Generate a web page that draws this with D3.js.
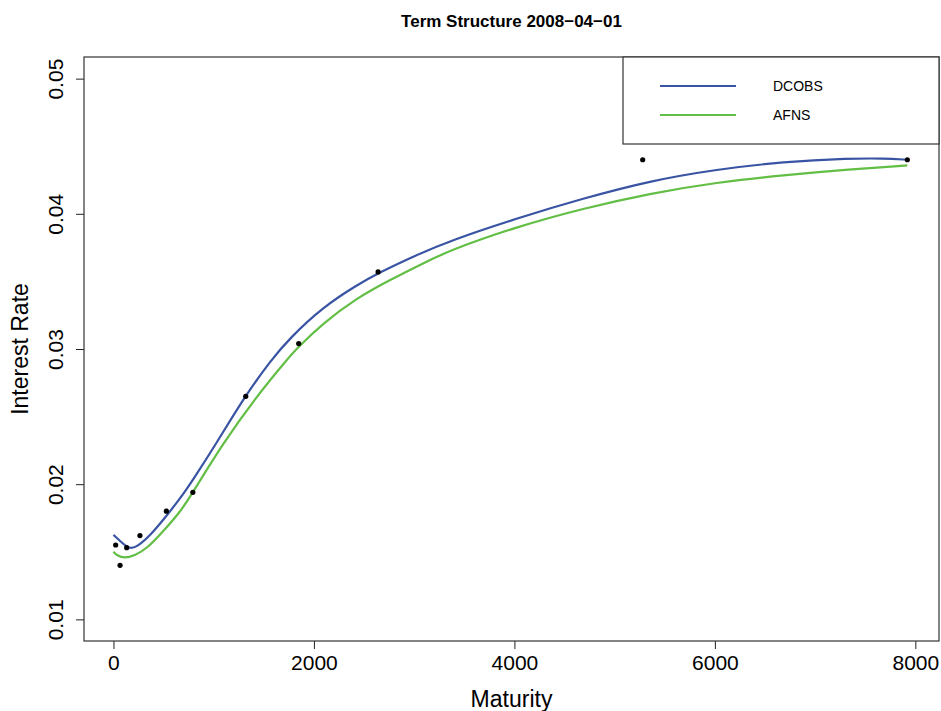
<!DOCTYPE html>
<html lang="en">
<head>
    <meta charset="UTF-8">
    <title>Term Structure 2008-04-01</title>
    <script src="https://d3js.org/d3.v7.min.js"></script>
    <style>
        body { margin: 0; background: #fff; }
        text { font-family: "Liberation Sans", Arial, Helvetica, sans-serif; fill: #000; }
    </style>
</head>
<body>
<script>
    // observed yields
    var maturities = [22, 66, 132, 264, 528, 792, 1320, 1848, 2640, 5280, 7920];
    var observed = [0.0155, 0.0140, 0.0153, 0.0162, 0.0180, 0.0194, 0.0265, 0.0304, 0.0357, 0.0440, 0.0440];

    // fitted curves
    var dcobsX = [0, 73, 157, 240, 373, 523, 672, 800, 1025, 1315, 1575, 1758, 2090, 2423, 2636, 3022, 3355, 4021, 4686, 5352, 6018, 6683, 7349, 7682, 7920];
    var dcobsY = [0.01625, 0.01575, 0.01519, 0.01538, 0.01625, 0.0176, 0.0190, 0.0204, 0.0230, 0.02655, 0.0292, 0.0308, 0.0331, 0.0347, 0.0356, 0.03695, 0.0380, 0.03966, 0.04114, 0.04244, 0.04329, 0.04385, 0.0441, 0.0441, 0.0440];
    var afnsX = [0, 40, 107, 207, 340, 506, 672, 792, 1091, 1425, 1741, 1824, 2090, 2423, 2756, 3089, 3355, 4021, 4686, 5352, 6018, 6683, 7349, 7920];
    var afnsY = [0.0150, 0.0147, 0.01452, 0.0147, 0.01526, 0.0166, 0.0180, 0.0194, 0.0230, 0.02647, 0.0293, 0.0300, 0.0319, 0.03375, 0.0351, 0.03634, 0.0373, 0.03904, 0.0404, 0.04151, 0.04233, 0.04286, 0.04329, 0.04358];

    var xTicks = [0, 2000, 4000, 6000, 8000];
    var yTicks = [0.01, 0.02, 0.03, 0.04, 0.05];
    var seriesNames = ['DCOBS', 'AFNS'];
    var seriesColors = ['#3a54a4', '#62be45'];

    var width = 941, height = 711;
    var plotL = 84, plotT = 57, plotR = 939, plotB = 641;

    var svg = d3.select('body').append('svg')
        .attr('width', width)
        .attr('height', height);

    // R style 4% padding around data range
    var xr = d3.extent(maturities), yr = d3.extent(yTicks);
    var xpad = (xr[1] - xr[0]) * 0.04, ypad = (yr[1] - yr[0]) * 0.04;
    var x = d3.scaleLinear().domain([xr[0] - xpad, xr[1] + xpad]).range([plotL, plotR]);
    var y = d3.scaleLinear().domain([yr[0] - ypad, yr[1] + ypad]).range([plotB, plotT]);

    svg.append('defs').append('clipPath').attr('id', 'plotclip')
        .append('rect')
        .attr('x', plotL).attr('y', plotT)
        .attr('width', plotR - plotL).attr('height', plotB - plotT);

    // title
    svg.append('text')
        .attr('x', (plotL + plotR) / 2)
        .attr('y', 27)
        .attr('text-anchor', 'middle')
        .style('font-weight', 'bold')
        .style('font-size', '17px')
        .text('Term Structure 2008\u221204\u221201');

    // x axis
    var xAxis = svg.append('g')
        .attr('transform', 'translate(0,' + plotB + ')')
        .call(d3.axisBottom(x).tickValues(xTicks).tickSize(8).tickPadding(6).tickFormat(d3.format('d')));
    xAxis.select('.domain').remove();
    xAxis.selectAll('line').attr('stroke', '#222');
    xAxis.selectAll('text').style('font-size', '21px').style('font-family', '"Liberation Sans", Arial, sans-serif');

    // y axis, labels turned like R
    var yAxis = svg.append('g')
        .attr('transform', 'translate(' + plotL + ',0)')
        .call(d3.axisLeft(y).tickValues(yTicks).tickSize(8).tickFormat(d3.format('.2f')));
    yAxis.select('.domain').remove();
    yAxis.selectAll('line').attr('stroke', '#222');
    yAxis.selectAll('text')
        .attr('x', null).attr('dy', null)
        .attr('text-anchor', 'middle')
        .attr('transform', 'translate(-21,0) rotate(-90)')
        .style('font-size', '21px')
        .style('font-family', '"Liberation Sans", Arial, sans-serif');

    // axis titles
    svg.append('text')
        .attr('x', (plotL + plotR) / 2)
        .attr('y', 707)
        .attr('text-anchor', 'middle')
        .style('font-size', '23px')
        .text('Maturity');
    svg.append('text')
        .attr('transform', 'translate(28,' + (plotT + plotB) / 2 + ') rotate(-90)')
        .attr('text-anchor', 'middle')
        .style('font-size', '23px')
        .text('Interest Rate');

    // curves
    var curves = [
        dcobsX.map(function (d, i) { return [d, dcobsY[i]]; }),
        afnsX.map(function (d, i) { return [d, afnsY[i]]; })
    ];
    var line = d3.line()
        .x(function (d) { return x(d[0]); })
        .y(function (d) { return y(d[1]); })
        .curve(d3.curveBasis);

    var plot = svg.append('g').attr('clip-path', 'url(#plotclip)');
    plot.selectAll('path.fit')
        .data(curves.slice().reverse())
        .enter().append('path')
        .attr('class', 'fit')
        .attr('d', line)
        .attr('fill', 'none')
        .attr('stroke', function (d, i) { return seriesColors[1 - i]; })
        .attr('stroke-width', 2.2);

    plot.selectAll('circle')
        .data(maturities)
        .enter().append('circle')
        .attr('cx', function (d) { return x(d); })
        .attr('cy', function (d, i) { return y(observed[i]); })
        .attr('r', 2.6)
        .attr('fill', '#000');

    // box
    svg.append('rect')
        .attr('x', plotL).attr('y', plotT)
        .attr('width', plotR - plotL).attr('height', plotB - plotT)
        .attr('fill', 'none')
        .attr('stroke', '#333')
        .attr('stroke-width', 1.2);

    // legend
    var legend = svg.append('g');
    legend.append('rect')
        .attr('x', 623).attr('y', plotT)
        .attr('width', plotR - 623).attr('height', 87)
        .attr('fill', '#fff')
        .attr('stroke', '#333')
        .attr('stroke-width', 1.2);
    var items = legend.selectAll('g.item')
        .data(seriesNames)
        .enter().append('g')
        .attr('class', 'item')
        .attr('transform', function (d, i) { return 'translate(0,' + (86 + i * 29) + ')'; });
    items.append('line')
        .attr('x1', 660).attr('x2', 736)
        .attr('stroke', function (d, i) { return seriesColors[i]; })
        .attr('stroke-width', 2.2);
    items.append('text')
        .attr('x', 773)
        .attr('y', 5)
        .style('font-size', '14px')
        .text(function (d) { return d; });
</script>
</body>
</html>
